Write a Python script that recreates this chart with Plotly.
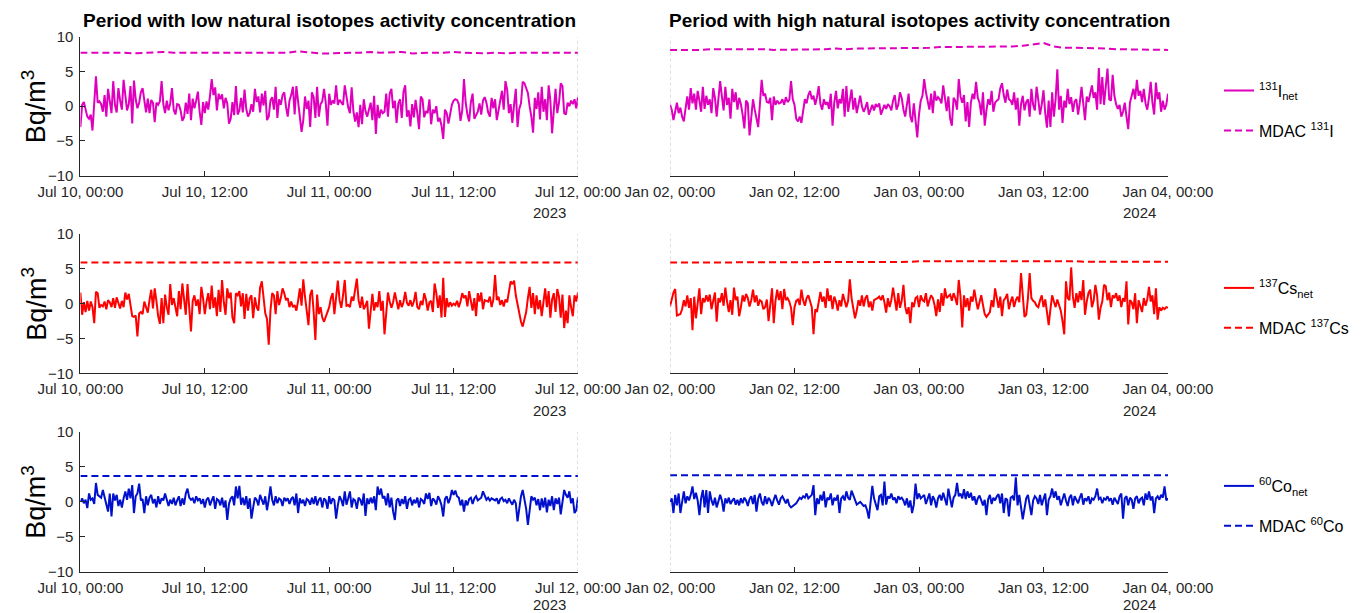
import pandas as pd
import plotly.graph_objects as go

# ---------------- data (10-minute net activity, Bq/m3) ----------------
i131_net_jul = [
    -3.0, 0.2, 0.6, -0.4, -1.5, -1.8, -1.2, -3.5, 1.0, 4.3, 0.5, 0.7, 0.3, -0.8, 1.6, -1.5, 2.5, 0.4, -1.0, 3.6, 0.2, -0.9, 2.6, 0.8,
    -0.5, 3.8, 1.2, -0.6, 0.3, 2.9, -2.5, 3.7, 1.0, -0.3, 0.5, 2.0, 2.6, 0.6, -0.9, 1.1, -1.0, 0.9, 0.5, -2.3, 0.5, 0.2, 0.7, 3.6,
    0.3, -1.0, 0.8, -0.6, 0.4, 2.6, -0.5, -1.2, 0.3, 0.2, -0.6, -2.1, -1.6, 0.5, -1.1, 1.8, -2.0, 1.1, -0.3, 0.8, 2.1, -0.8, -2.7, 0.6,
    -1.0, 0.7, -0.5, 1.5, 3.9, 1.6, 2.7, -0.6, 1.8, 1.0, 1.7, -0.3, 1.2, 0.4, -2.5, -1.8, 0.6, -1.3, 2.9, -1.2, -0.6, 1.2, -0.9, 2.4,
    -0.4, -1.5, -1.0, 0.3, -0.8, 2.5, 0.6, 1.4, -0.9, 1.8, 0.1, 2.2, -2.0, -1.5, 0.8, 1.3, -0.5, 2.8, -1.7, 1.0, 0.2, 1.6, 2.0, -0.1,
    -1.5, 0.8, 1.6, 2.8, -1.2, 2.9, 1.0, -1.5, -3.7, -2.0, 1.4, -0.4, 0.8, -3.0, 2.0, 1.3, -1.7, 2.8, -1.5, 0.3, 0.7, 2.5, 0.5, -2.8,
    1.8, 0.2, 0.8, 0.4, 3.0, 0.2, 0.9, 0.6, 0.2, 3.0, 1.2, -0.2, -1.0, 2.7, -0.7, -2.2, -0.9, -3.0, 0.2, -2.6, 1.0, -0.7, -1.5, -0.6,
    0.5, -2.0, 1.5, -4.0, 0.2, -1.7, -0.5, -1.0, -0.8, 1.8, -1.5, 1.8, 2.5, -0.3, 0.8, -2.4, 0.4, 1.0, -1.7, 2.1, 3.0, -1.5, -0.6, -2.9,
    0.3, -1.6, 0.9, -1.0, -3.3, 1.4, 1.0, -1.6, -0.7, -1.0, 1.0, -2.6, -0.5, -1.0, 0.0, -2.2, -1.7, -2.8, -4.7, -0.5, -1.0, -2.5, -1.3, 0.2,
    0.8, 1.0, 0.9, 0.3, -2.1, -0.6, 3.9, 0.5, -1.2, -2.2, 0.6, 1.8, -1.8, -1.3, -0.8, 0.4, -1.2, 0.8, 1.3, 0.5, -0.9, -1.5, 1.2, -0.3,
    1.0, -2.0, -0.7, 0.9, 2.2, -0.5, 3.6, 2.4, -1.0, 0.3, -2.4, 0.2, 2.5, -3.0, -0.4, 0.4, 3.5, 3.3, 2.5, 1.9, 0.0, -1.5, -3.8, 1.2,
    -0.4, 2.0, -1.9, 2.8, -0.8, 1.0, -2.0, 3.0, 0.8, -3.9, -0.6, 2.5, -1.0, 0.5, 3.3, 2.9, -1.0, -1.2, 0.5, 0.0, 0.8, 0.3, 1.0, -0.3, 1.3,
]
i131_net_jan = [
    0.2, -0.5, -2.0, -0.8, 0.5, -1.0, -0.2, -1.5, -2.2, -0.3, 1.4, -0.5, 2.6, 0.4, 1.8, -0.5, 2.2, 0.8, -0.8, 2.8, -0.4, 1.5, 0.2, 1.0,
    -1.0, 2.6, 1.2, -1.5, 0.8, 3.6, 1.4, -0.6, 2.8, 0.2, 1.2, -1.8, 2.5, 0.6, 2.0, -0.5, 1.2, 0.3, -1.2, -3.2, 0.8, 0.4, -4.2, -1.8,
    1.0, -0.5, -1.8, -3.0, 0.3, 3.8, 1.5, 1.8, 0.6, 0.5, 1.2, -2.0, 1.4, 0.2, 0.8, 0.4, 0.5, 1.0, 0.2, 1.3, 0.6, 0.9, 3.6, 1.0,
    0.2, -1.8, -2.2, -1.5, -2.4, -0.8, 1.0, 0.4, 1.6, 2.2, 1.0, 1.5, 0.2, 1.3, 2.9, 0.3, -0.5, 1.0, 0.2, 0.6, -0.4, 1.8, -2.8, 0.5,
    2.2, -0.3, 1.0, 0.4, 2.5, -1.5, 2.9, -0.8, 0.6, 2.4, -0.5, 1.2, -1.0, 0.4, 1.5, 0.0, -0.8, -0.2, 0.6, -1.2, -0.5, 0.2, -0.6, 0.3,
    -0.1, 0.4, -1.2, -0.3, 0.2, -0.4, 0.3, 0.0, -0.6, 0.8, 1.6, -0.5, 0.2, 2.0, 1.2, -0.5, -1.5, 0.2, 1.8, -1.5, -2.3, 0.4, -1.8, -4.5,
    -1.2, 0.8, 1.5, 3.9, 2.0, 0.5, -0.5, 1.8, -1.0, 2.2, 0.8, 1.3, 1.0, 0.4, 3.0, 1.2, -0.7, 1.4, -1.8, -2.8, 1.2, 0.8, -0.5, 3.9,
    1.4, 0.5, 1.6, -2.2, 0.6, -3.0, 0.5, 1.8, 1.0, 3.5, 1.2, 0.5, -1.3, 2.0, -2.8, -0.6, 1.0, 0.2, 2.2, -0.8, 0.5, 0.8, 1.0, 2.6,
    3.3, 1.6, 0.5, 2.4, 1.0, 0.8, 0.2, 2.0, -0.5, 1.2, -2.8, 0.3, 1.5, -0.6, 0.6, 1.0, -1.5, 2.5, 0.2, -0.6, 2.8, 0.9, -1.2, 0.3,
    2.3, -1.0, -3.1, 0.8, -3.0, 2.0, -1.5, 1.0, 5.3, -0.5, 1.5, -2.4, 0.8, -0.2, 2.5, 0.3, 1.3, -0.8, 0.7, 1.0, -1.2, 0.5, 2.8, 0.4,
    -2.0, 1.4, 0.6, 1.8, 3.0, 1.2, 2.0, -0.5, 5.5, 0.3, 4.2, 0.2, 3.2, 5.4, 1.0, 0.8, 4.5, 1.5, 0.3, -0.4, 0.2, -1.5, -0.8, 0.5,
    -1.5, -3.3, 0.5, 1.4, 2.5, 1.0, 3.8, 1.5, 2.2, 0.6, 2.5, 0.4, -0.5, 1.2, 3.5, 0.5, -1.2, 3.4, 1.0, 2.0, -0.8, 0.8, -0.5, 0.2, 1.8,
]
cs137_net_jul = [
    1.6, -1.6, 0.2, -1.2, 0.4, -1.0, 0.3, -0.5, -2.8, 1.7, 1.5, -0.6, -0.2, -0.4, 0.3, -0.8, 0.5, 0.2, -0.5, 0.8, -0.6, 0.9, 0.1, -0.7,
    0.4, -0.5, 1.6, 0.6, 1.4, -0.3, -1.8, -1.9, -1.7, -4.7, -1.4, -1.2, -1.5, 0.3, -0.4, -1.3, 0.5, 2.0, -0.7, 2.2, 0.4, -1.8, -2.9, 0.8,
    -2.8, 1.3, -0.5, -1.6, 2.8, -0.2, 0.8, -0.5, -1.8, 1.8, -0.8, 2.9, 0.5, -1.6, 2.8, -0.4, -4.0, 0.4, 1.2, -0.3, 0.6, -1.5, 2.4, 0.8,
    -1.5, 0.3, 1.5, -0.8, 2.6, -0.6, 0.9, -1.8, 2.0, -1.2, 3.4, 0.2, -1.6, 2.2, 0.8, 1.6, -2.0, -2.8, 1.5, 1.2, 1.8, -0.4, 1.5, -2.2,
    1.4, -1.0, 0.8, 1.2, -2.1, 0.9, -0.5, -1.0, 2.3, 3.2, 0.5, -1.4, -2.2, -5.9, -1.0, 1.5, 1.2, -1.5, 1.8, -0.2, 0.8, 2.2, 1.5, 0.5,
    0.8, -0.5, 0.3, -0.5, -0.2, -1.0, 0.4, 2.2, -0.3, 3.5, 1.0, -1.5, -3.1, 1.2, 2.0, -1.2, -5.2, 1.3, -1.5, -0.5, -2.0, -2.6, -1.8, -1.0,
    -0.5, 0.8, 1.5, -1.5, 1.0, 3.3, 0.5, -0.6, 1.2, 3.4, -0.3, -0.2, -0.5, 1.0, 0.4, 1.8, 3.6, 0.5, -0.6, 1.0, -0.8, -0.3, 0.4, -3.6,
    -0.5, 1.4, -1.0, 0.2, -0.5, 1.8, -1.0, 0.4, -4.4, -1.5, 1.6, 0.3, -0.6, 0.2, 1.6, 0.4, -0.8, 0.5, -0.5, 0.2, 1.7, 0.1, -0.3, 0.5,
    -0.4, 0.3, 1.7, -0.5, -0.8, 0.4, -0.2, 1.5, 0.6, -1.0, 0.2, 0.4, -1.2, 2.9, 1.5, -0.6, 1.2, -2.0, 3.7, -1.9, 0.8, -0.5, 0.2, -0.3,
    0.0, -0.2, 0.4, -0.5, 0.3, 1.5, 0.8, 1.2, -0.4, 1.8, 0.2, -1.0, 0.8, -1.8, 1.5, 0.3, 1.6, -0.8, 0.5, 0.4, 0.3, 1.0, -0.5, 0.6,
    4.1, 0.5, 1.0, -0.2, 0.5, -0.4, 0.6, 0.2, 1.5, 3.2, 2.8, 3.3, 1.2, -0.2, -1.5, -2.6, -3.3, -2.0, -1.2, 0.8, 2.4, -0.6, 1.5, -1.5,
    1.2, -0.8, 0.5, -1.8, 0.2, 2.2, -0.5, 1.8, -2.0, 0.6, 1.5, -1.2, 2.1, 1.0, -2.0, 1.3, -3.5, -1.0, -2.8, 1.2, -0.5, -1.8, 1.2, 0.3, 1.6,
]
cs137_net_jan = [
    -0.4, 0.8, 1.6, 2.1, -1.7, -1.6, -1.5, -0.8, 0.5, -0.4, 1.2, -0.6, 0.8, -3.8, 1.0, -2.1, 0.5, 2.2, -1.5, 0.8, 0.2, 1.2, 0.3, 1.3,
    -0.8, 0.4, 1.6, -2.6, 0.8, 0.2, 1.5, -0.3, 2.3, 0.3, -1.2, 0.5, -1.6, 2.3, 0.5, 1.0, -1.8, -0.5, 1.2, 0.3, 1.4, 0.8, -0.4, 0.5,
    2.0, 0.2, 1.2, -0.3, 0.5, 0.3, -0.8, -0.5, 0.6, -2.5, 0.2, 2.2, -2.8, 0.4, 2.0, 0.5, 1.8, -0.8, 2.1, 0.5, 0.8, 0.3, -0.6, -3.1,
    -0.5, 0.4, 0.6, -0.2, 2.0, 0.5, -0.3, 0.8, 1.2, 0.2, -0.5, -4.4, -0.8, -1.2, 0.5, 1.7, 0.3, 1.0, -0.6, 2.2, 0.4, 1.2, -0.8, 1.0,
    0.3, -1.0, 0.5, -0.4, 1.4, 0.2, -0.5, 0.4, 3.5, 0.8, -0.5, -2.1, -1.0, 0.5, -0.3, 1.2, -0.4, 0.8, 1.2, -0.5, 0.3, -1.0, 0.5, 0.6,
    0.8, 1.0, 0.5, 1.2, 0.2, -1.3, 0.8, -0.5, 0.5, 2.3, 0.5, -1.0, 1.5, -0.6, 0.4, 2.7, -0.4, -1.5, -0.5, -2.8, 0.2, -0.5, 0.8, 1.0,
    -0.5, 1.2, 0.5, 0.3, 1.5, -0.4, 0.5, 1.2, 0.8, -0.2, -1.8, 0.6, -1.2, 1.5, -0.3, 2.2, 0.8, 1.0, 1.3, 0.4, 1.5, 0.8, -0.2, 3.4,
    1.0, -3.4, 1.2, -0.5, 0.8, -1.0, 1.0, 0.3, 2.0, 0.5, -0.8, 0.2, 1.2, -0.2, -1.5, -1.9, -1.6, -1.2, 0.5, -0.5, 2.2, 0.5, -0.6, 1.0,
    -1.8, 0.5, 0.8, 1.4, -0.8, 0.3, 1.0, -0.5, 0.5, 1.0, 0.2, 4.4, 0.5, -1.9, -1.6, 0.8, 4.4, 0.8, 0.4, 0.2, -0.3, -0.5, 0.5, 1.2,
    -0.5, 0.6, -1.2, -3.1, -0.8, 1.2, 0.3, -0.5, 0.6, -0.2, -1.0, -2.5, -4.4, 3.2, 0.8, 0.5, 5.2, 1.0, -0.6, 1.5, 0.2, 1.8, 0.5, 3.4,
    -1.6, 0.3, 1.5, 2.0, -0.5, 0.4, 2.7, 1.2, -2.3, -0.6, 0.3, 2.7, 2.5, 0.5, 1.6, -0.5, 1.2, 0.8, 1.5, 0.4, 1.2, -0.5, 0.8, 0.3,
    3.2, -3.0, 0.5, 0.2, -0.8, 1.5, -2.8, 0.5, -0.5, -1.2, 0.8, -0.3, 0.6, 2.4, 0.3, 1.2, -1.5, 2.2, -2.3, -0.5, -1.0, -0.6, -0.8, -0.5, -0.6,
]
co60_net_jul = [
    0.0, 0.5, -0.2, 0.3, -0.9, 1.2, 0.3, 0.5, -0.3, 2.7, 1.0, 0.8, 0.6, 1.7, 0.5, -0.5, -1.4, 1.2, -2.1, 1.2, 0.2, 1.0, -0.6, 0.3,
    -0.8, 0.5, 1.5, 0.3, 1.9, 0.5, 2.4, -1.6, 0.8, 1.2, 2.6, 0.2, 0.4, -1.6, 0.8, -0.5, 0.6, 1.0, -0.2, 0.4, -0.8, 0.8, -0.3, 0.5,
    0.2, 1.2, 0.4, -0.6, 0.3, -0.3, 0.6, -0.5, 0.2, 0.8, -0.6, 0.5, -0.4, 1.2, 1.9, 0.6, 0.3, 0.5, -0.2, 0.8, 0.2, 0.5, -0.3, 0.4,
    -0.8, 0.3, 0.6, -0.5, 0.2, 0.8, -1.0, 0.4, 0.2, -0.5, 0.6, -0.8, 0.2, -2.6, -0.3, 0.5, 0.8, -0.5, 2.2, 0.5, 2.3, -0.4, 0.6, -0.5,
    0.8, -1.0, 0.5, -2.4, -0.8, 0.6, 0.3, -0.5, 1.0, 0.2, -0.4, 0.8, -1.2, 0.3, 2.2, 0.3, -0.5, 0.8, -0.2, 0.5, 0.3, -0.6, 0.6, 0.2,
    0.5, -0.3, 0.4, 0.7, -0.5, 1.2, -1.6, 0.5, -0.2, 0.3, -0.6, 0.4, 0.2, -0.4, 0.6, -0.3, 0.8, -0.5, 0.3, 0.6, -0.8, 0.5, 0.2, -1.0,
    0.8, -0.3, 0.5, 0.2, -2.4, -0.5, 0.8, 0.3, -0.6, 1.5, -0.4, 0.5, 1.5, -0.8, 0.4, 0.2, -1.0, 0.6, 0.3, -0.5, 1.2, -2.0, 0.5, -0.3,
    0.6, -0.2, 0.8, -1.2, 2.2, 1.0, 1.9, 0.5, 0.8, -0.5, 1.2, -0.8, 0.6, -1.4, -2.6, 0.2, 0.5, -0.6, 0.4, -0.3, 0.8, -1.0, 0.3, 0.5,
    -0.5, 0.3, -0.2, 0.6, -0.8, 0.4, 0.2, -0.3, 1.2, 0.4, 1.3, -0.6, 0.5, 0.2, -0.4, 0.8, 0.3, -0.5, -2.1, 0.4, 0.8, -0.2, 0.5, 1.7,
    1.0, 1.6, 0.8, 0.6, -0.5, 0.3, -1.4, 0.2, -0.5, 0.4, 0.6, -0.3, 0.5, 0.8, 0.2, 0.4, 0.6, 1.5, 0.8, 0.3, 0.6, 0.2, 0.5, 0.3,
    0.2, 0.5, -0.3, 0.4, 0.6, 0.1, 0.3, -0.2, 0.5, 0.0, -0.4, 0.3, -0.2, -2.8, -0.5, 0.8, 1.7, 0.2, -1.0, -3.3, -1.5, 0.8, 0.3, 0.6,
    -0.5, 0.4, -1.2, 0.5, -0.8, 0.6, -1.5, 0.3, -0.6, 0.8, -1.2, 0.5, -0.3, 0.6, -1.8, 0.2, 1.7, 1.0, 0.6, 1.5, -0.2, 0.5, -1.6, -1.2, 0.7,
]
co60_net_jan = [
    0.0, 0.5, -1.6, 1.0, -0.5, 1.2, -1.6, 0.3, 1.5, -0.2, 0.8, 0.2, 1.0, 2.2, 0.4, 1.3, 0.2, -1.9, 0.5, 1.7, -0.8, 1.7, -1.6, 1.5,
    0.2, -0.5, 0.6, -0.8, 0.3, 1.0, 0.2, -1.4, 0.5, -0.2, 0.6, -0.3, 0.2, 0.5, -0.4, 0.3, -0.5, 0.5, -0.2, 0.6, 0.2, -0.6, 0.4, 0.8,
    -0.3, 1.0, -1.4, 0.5, 1.2, 0.0, -0.5, 0.8, -0.3, 0.6, 0.2, -0.6, 0.3, 1.0, 0.2, -0.4, 0.5, 0.8, 0.3, -0.2, 0.4, -0.5, -0.8, -0.6,
    -0.4, -0.2, 0.2, 0.6, 0.4, 0.8, 0.6, 1.2, 0.5, 0.8, 1.0, 2.4, -1.9, 0.5, -0.3, 1.0, 0.2, 1.5, -0.8, 0.6, 0.3, 1.2, -0.5, 0.6,
    0.2, 1.0, -1.6, 0.5, 0.8, 0.2, 1.5, 0.6, 0.3, 1.6, 1.0, 0.2, -0.4, -0.2, 0.0, -0.3, -0.6, -0.5, -1.2, -2.4, 0.4, 2.3, 0.5, -0.2,
    -1.2, 0.8, 1.0, -0.5, 2.9, -0.4, 0.8, 0.5, 1.2, 0.3, 0.6, -0.2, 0.8, 0.4, 0.6, 0.2, -0.5, 0.5, -0.8, 0.2, -1.6, -0.4, 2.6, 0.4,
    1.2, 0.5, 0.8, 1.0, -0.3, 0.6, 1.2, -0.5, 0.8, 0.3, -0.8, 0.5, 1.0, 0.2, 1.3, 0.4, -0.5, 1.9, 0.3, -0.8, 0.6, 1.0, 2.7, 0.8,
    1.2, 0.5, 1.8, 0.4, 1.5, 0.6, 1.3, 0.2, 0.8, -0.4, 0.5, 0.9, 0.2, -0.5, 0.3, -1.9, 0.4, 1.0, -0.3, 0.6, 0.2, 0.8, 1.1, -0.2,
    1.2, -1.6, 0.5, 0.3, -2.1, 0.6, 0.8, 0.2, 3.5, -0.5, 1.0, -1.2, -2.5, -1.0, 0.5, 1.0, -0.4, -1.9, 0.2, 0.8, 0.5, -0.3, 1.0, -0.5,
    0.4, 1.2, -1.9, 0.3, 0.8, 1.9, 0.6, 1.5, 0.3, 0.8, -0.5, 0.4, 1.2, 0.2, -0.6, 0.6, 1.0, -0.5, 0.8, 0.3, -0.2, 0.6, 1.2, -0.4,
    0.5, 0.2, 0.8, -0.3, 0.5, 0.3, 0.8, 1.9, 0.4, 0.6, -0.2, 0.5, 0.3, 0.8, 0.2, 0.5, -0.4, 0.6, 0.2, -0.3, 0.8, 1.2, -2.4, 0.5,
    0.8, -0.5, 0.6, 0.3, -1.0, 0.5, 0.8, -0.2, 0.4, 0.6, -0.5, 1.2, 0.3, 1.5, 0.2, 0.8, -1.6, 0.5, 0.8, 0.3, 1.0, 0.6, 2.2, 0.2, 0.5,
]

# ---------------- hourly MDAC values (Bq/m3) ----------------
i131_mdac_jul = [7.7, 7.7, 7.8, 7.7, 7.7, 7.6, 7.7, 7.7, 7.8, 7.7, 7.7, 7.8, 7.8, 7.7, 7.7, 7.7, 7.8, 7.7,
                 7.7, 7.7, 7.7, 7.9, 7.7, 7.6, 7.6, 7.7, 7.7, 7.7, 7.8, 7.7, 7.7, 7.8, 7.6, 7.7, 7.7, 7.7,
                 7.8, 7.7, 7.6, 7.6, 7.7, 7.6, 7.7, 7.7, 7.7, 7.7, 7.6, 7.7, 7.7]
i131_mdac_jan = [8.1, 8.1, 8.0, 8.1, 8.2, 8.2, 8.3, 8.3, 8.2, 8.2, 8.1, 8.1, 8.1, 8.2, 8.2, 8.2, 8.3, 8.2,
                 8.3, 8.3, 8.3, 8.4, 8.4, 8.3, 8.4, 8.4, 8.5, 8.5, 8.5, 8.6, 8.6, 8.6, 8.6, 8.6, 8.7, 8.9,
                 9.1, 8.6, 8.4, 8.4, 8.4, 8.3, 8.3, 8.2, 8.2, 8.2, 8.2, 8.1, 8.1]
cs137_mdac_jul = [5.9, 5.9, 5.9, 5.9, 5.9, 5.9, 5.9, 6.0, 5.9, 5.9, 5.9, 5.9, 5.9, 5.9, 5.9, 5.9, 5.9, 5.9,
                  5.9, 5.9, 5.9, 5.9, 6.0, 5.9, 5.9, 5.9, 5.9, 5.9, 5.9, 5.9, 5.9, 5.9, 5.9, 5.9, 5.9, 5.9,
                  5.9, 5.9, 5.9, 5.9, 5.9, 5.9, 5.9, 5.9, 5.9, 5.9, 5.9, 5.9, 5.9]
cs137_mdac_jan = [5.9, 5.9, 5.9, 5.9, 5.9, 5.9, 6.0, 6.0, 6.0, 6.0, 6.0, 6.0, 6.0, 6.0, 6.0, 6.0, 6.0, 6.0,
                  6.0, 6.0, 6.0, 6.0, 6.0, 6.0, 6.1, 6.1, 6.1, 6.1, 6.1, 6.1, 6.1, 6.1, 6.1, 6.1, 6.2, 6.2,
                  6.2, 6.1, 6.1, 6.1, 6.0, 6.0, 6.0, 6.0, 6.0, 6.0, 6.0, 6.0, 6.0]
co60_mdac_jul = [3.7] * 49
co60_mdac_jan = [3.8, 3.8, 3.8, 3.8, 3.8, 3.8, 3.8, 3.8, 3.8, 3.8, 3.8, 3.8, 3.8, 3.8, 3.8, 3.8, 3.8, 3.8,
                 3.8, 3.8, 3.8, 3.8, 3.8, 3.8, 3.8, 3.8, 3.8, 3.8, 3.8, 3.8, 3.8, 3.8, 3.8, 3.9, 3.9, 3.9,
                 3.9, 3.9, 3.8, 3.8, 3.8, 3.8, 3.8, 3.8, 3.8, 3.8, 3.8, 3.8, 3.8]

period_titles = ["Period with low natural isotopes activity concentration",
                 "Period with high natural isotopes activity concentration"]
period_ranges = [("2023-07-10 00:00", "2023-07-12 00:00"), ("2024-01-02 00:00", "2024-01-04 00:00")]
period_years = ["2023", "2024"]
tick_hours = [0, 12, 24, 36, 48]
tick_labels = [["Jul 10, 00:00", "Jul 10, 12:00", "Jul 11, 00:00", "Jul 11, 12:00", "Jul 12, 00:00"],
               ["Jan 02, 00:00", "Jan 02, 12:00", "Jan 03, 00:00", "Jan 03, 12:00", "Jan 04, 00:00"]]
y_ticks = [-10, -5, 0, 5, 10]

isotopes = [
    dict(label="<sup>131</sup>I", color="#DF00BE",
         net=[i131_net_jul, i131_net_jan], mdac=[i131_mdac_jul, i131_mdac_jan]),
    dict(label="<sup>137</sup>Cs", color="#FF0000",
         net=[cs137_net_jul, cs137_net_jan], mdac=[cs137_mdac_jul, cs137_mdac_jan]),
    dict(label="<sup>60</sup>Co", color="#0010CC",
         net=[co60_net_jul, co60_net_jan], mdac=[co60_mdac_jul, co60_mdac_jan]),
]

# ---------------- layout geometry (pixels) ----------------
W, H = 1368, 613
col_px = [(80.4, 578.0), (670.0, 1168.0)]
row_px = [(36.7, 175.7), (234.0, 373.3), (432.0, 571.7)]
FONT = "Liberation Sans, Arial, Helvetica, sans-serif"
AXC = "#262626"


def fx(p):
    return p / W


def fy(p):
    return 1 - p / H


fig = go.Figure()
layout = dict(
    width=W, height=H, margin=dict(l=0, r=0, t=0, b=0, autoexpand=False),
    paper_bgcolor="white", plot_bgcolor="white",
    font=dict(family=FONT, color=AXC),
    annotations=[], shapes=[],
)

k = 0
for r, iso in enumerate(isotopes):
    legend_id = "legend" if r == 0 else f"legend{r + 1}"
    layout[legend_id] = dict(
        x=fx(1219), y=fy(row_px[r][0] + 37), xanchor="left", yanchor="top",
        bgcolor="rgba(0,0,0,0)", font=dict(family=FONT, size=16, color="black"),
        tracegroupgap=16, itemwidth=30,
    )
    for c in range(2):
        k += 1
        xa = "x" if k == 1 else f"x{k}"
        ya = "y" if k == 1 else f"y{k}"
        start, end = period_ranges[c]
        net = iso["net"][c]
        mdac = iso["mdac"][c]
        t_net = pd.date_range(start, end, periods=len(net))
        t_mdac = pd.date_range(start, end, periods=len(mdac))
        show = c == 0
        fig.add_trace(go.Scatter(
            x=t_net, y=net, mode="lines", xaxis=xa, yaxis=ya,
            line=dict(color=iso["color"], width=2),
            name=iso["label"] + "<sub>net</sub>", showlegend=show,
            legend=legend_id, legendgroup=f"net{r}",
        ))
        fig.add_trace(go.Scatter(
            x=t_mdac, y=mdac, mode="lines", xaxis=xa, yaxis=ya,
            line=dict(color=iso["color"], width=2, dash="7px,4px"),
            name="MDAC " + iso["label"], showlegend=show,
            legend=legend_id, legendgroup=f"mdac{r}",
        ))

        t0 = pd.Timestamp(start)
        tickvals = [t0 + pd.Timedelta(hours=h) for h in tick_hours]
        x0, x1 = col_px[c]
        ytop, ybot = row_px[r]
        layout["xaxis" if k == 1 else f"xaxis{k}"] = dict(
            domain=[fx(x0), fx(x1)], anchor=ya, range=[start, end], automargin=False,
            tickmode="array", tickvals=tickvals, ticktext=tick_labels[c],
            ticks="inside", ticklen=5, tickcolor=AXC, ticklabelstandoff=2,
            showline=True, linecolor=AXC, linewidth=1, showgrid=False, zeroline=False,
            tickfont=dict(family=FONT, size=15, color=AXC),
        )
        layout["yaxis" if k == 1 else f"yaxis{k}"] = dict(
            domain=[fy(ybot), fy(ytop)], anchor=xa, range=[-10, 10], automargin=False,
            tickmode="array", tickvals=y_ticks,
            ticks="inside" if c == 0 else "", ticklen=5, tickcolor=AXC, ticklabelstandoff=3,
            showticklabels=(c == 0), showline=(c == 0), linecolor=AXC, linewidth=1,
            showgrid=False, zeroline=False,
            tickfont=dict(family=FONT, size=15, color=AXC),
        )
        # dotted break marker at the inner edge of each period
        edge = end if c == 0 else start
        layout["shapes"].append(dict(
            type="line", xref=xa, yref=ya, x0=edge, x1=edge, y0=-10, y1=10,
            line=dict(color="#BDBDBD", width=1, dash="dot"),
        ))
        # year label under the last tick
        layout["annotations"].append(dict(
            text=period_years[c], xref="paper", yref="paper",
            x=fx(x1 - 29), y=fy(min(ybot + 37, 604)), xanchor="center", yanchor="middle",
            showarrow=False, font=dict(family=FONT, size=15, color=AXC),
        ))

    # y-axis title for the row
    ytop, ybot = row_px[r]
    layout["annotations"].append(dict(
        text="Bq/m<sup>3</sup>", xref="paper", yref="paper",
        x=fx(34), y=fy((ytop + ybot) / 2), xanchor="center", yanchor="middle",
        textangle=-90, showarrow=False, font=dict(family=FONT, size=27, color="black"),
    ))

for c in range(2):
    x0, x1 = col_px[c]
    layout["annotations"].append(dict(
        text="<b>" + period_titles[c] + "</b>", xref="paper", yref="paper",
        x=fx((x0 + x1) / 2), y=fy(20), xanchor="center", yanchor="middle",
        showarrow=False, font=dict(family=FONT, size=19, color="black"),
    ))

fig.update_layout(**layout)
fig.write_html("out.html")
